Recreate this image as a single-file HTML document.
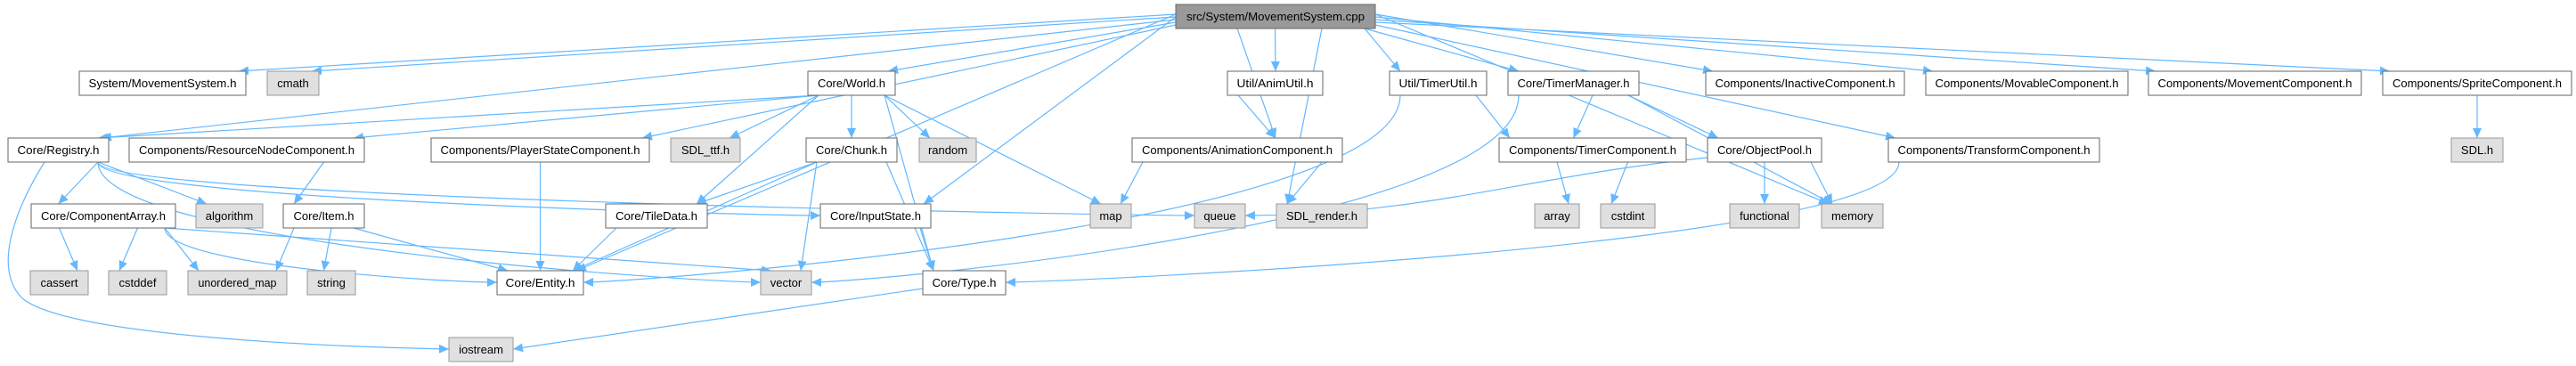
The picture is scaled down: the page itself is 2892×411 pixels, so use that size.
<!DOCTYPE html>
<html><head><meta charset="utf-8">
<style>
html,body{margin:0;padding:0;background:#fff;}
svg{display:block;}
text{font-family:"Liberation Sans",Arial,sans-serif;font-size:13px;fill:#000;}
</style></head>
<body>
<svg id="g" width="2892" height="411" viewBox="0 0 2892 411" xmlns="http://www.w3.org/2000/svg">
<defs>
<marker id="ah" markerUnits="userSpaceOnUse" markerWidth="12" markerHeight="10" refX="11" refY="5" orient="auto">
<path d="M0,0 L11,5 L0,10 z" fill="#63b8ff"/>
</marker>
</defs>
<g id="edges" fill="none" stroke="#63b8ff" stroke-width="1.2"></g>
<g id="nodes">
<rect x="1320" y="5" width="224" height="27" fill="#999" stroke="#666"/><text x="1432" y="23" text-anchor="middle" textLength="200" lengthAdjust="spacingAndGlyphs">src/System/MovementSystem.cpp</text>
<rect x="89" y="80" width="187" height="27" fill="#fff" stroke="#666"/><text x="182.5" y="98" text-anchor="middle" textLength="166" lengthAdjust="spacingAndGlyphs">System/MovementSystem.h</text>
<rect x="300" y="80" width="58" height="27" fill="#e0e0e0" stroke="#999"/><text x="329" y="98" text-anchor="middle">cmath</text>
<rect x="9" y="155" width="113" height="27" fill="#fff" stroke="#666"/><text x="65.5" y="173" text-anchor="middle" textLength="92" lengthAdjust="spacingAndGlyphs">Core/Registry.h</text>
<rect x="145" y="155" width="264" height="27" fill="#fff" stroke="#666"/><text x="277" y="173" text-anchor="middle" textLength="242" lengthAdjust="spacingAndGlyphs">Components/ResourceNodeComponent.h</text>
<rect x="35" y="229" width="162" height="27" fill="#fff" stroke="#666"/><text x="116" y="247" text-anchor="middle" textLength="140" lengthAdjust="spacingAndGlyphs">Core/ComponentArray.h</text>
<rect x="220" y="229" width="75" height="27" fill="#e0e0e0" stroke="#999"/><text x="257.5" y="247" text-anchor="middle">algorithm</text>
<rect x="318" y="229" width="91" height="27" fill="#fff" stroke="#666"/><text x="363.5" y="247" text-anchor="middle">Core/Item.h</text>
<rect x="34" y="304" width="65" height="27" fill="#e0e0e0" stroke="#999"/><text x="66.5" y="322" text-anchor="middle">cassert</text>
<rect x="122" y="304" width="65" height="27" fill="#e0e0e0" stroke="#999"/><text x="154.5" y="322" text-anchor="middle">cstddef</text>
<rect x="211" y="304" width="111" height="27" fill="#e0e0e0" stroke="#999"/><text x="266.5" y="322" text-anchor="middle" textLength="88" lengthAdjust="spacingAndGlyphs">unordered_map</text>
<rect x="345" y="304" width="54" height="27" fill="#e0e0e0" stroke="#999"/><text x="372" y="322" text-anchor="middle">string</text>
<rect x="558" y="304" width="97" height="27" fill="#fff" stroke="#666"/><text x="606.5" y="322" text-anchor="middle" textLength="78" lengthAdjust="spacingAndGlyphs">Core/Entity.h</text>
<rect x="504" y="379" width="72" height="27" fill="#e0e0e0" stroke="#999"/><text x="540" y="397" text-anchor="middle">iostream</text>
<rect x="484" y="155" width="245" height="27" fill="#fff" stroke="#666"/><text x="606.5" y="173" text-anchor="middle" textLength="224" lengthAdjust="spacingAndGlyphs">Components/PlayerStateComponent.h</text>
<rect x="907" y="80" width="98" height="27" fill="#fff" stroke="#666"/><text x="956" y="98" text-anchor="middle" textLength="76" lengthAdjust="spacingAndGlyphs">Core/World.h</text>
<rect x="753" y="155" width="78" height="27" fill="#e0e0e0" stroke="#999"/><text x="792" y="173" text-anchor="middle">SDL_ttf.h</text>
<rect x="905" y="155" width="102" height="27" fill="#fff" stroke="#666"/><text x="956" y="173" text-anchor="middle" textLength="80" lengthAdjust="spacingAndGlyphs">Core/Chunk.h</text>
<rect x="1032" y="155" width="64" height="27" fill="#e0e0e0" stroke="#999"/><text x="1064" y="173" text-anchor="middle">random</text>
<rect x="680" y="229" width="114" height="27" fill="#fff" stroke="#666"/><text x="737" y="247" text-anchor="middle" textLength="92" lengthAdjust="spacingAndGlyphs">Core/TileData.h</text>
<rect x="921" y="229" width="124" height="27" fill="#fff" stroke="#666"/><text x="983" y="247" text-anchor="middle" textLength="102" lengthAdjust="spacingAndGlyphs">Core/InputState.h</text>
<rect x="854" y="304" width="57" height="27" fill="#e0e0e0" stroke="#999"/><text x="882.5" y="322" text-anchor="middle">vector</text>
<rect x="1036" y="304" width="93" height="27" fill="#fff" stroke="#666"/><text x="1082.5" y="322" text-anchor="middle" textLength="72" lengthAdjust="spacingAndGlyphs">Core/Type.h</text>
<rect x="1378" y="80" width="107" height="27" fill="#fff" stroke="#666"/><text x="1431.5" y="98" text-anchor="middle" textLength="86" lengthAdjust="spacingAndGlyphs">Util/AnimUtil.h</text>
<rect x="1560" y="80" width="109" height="27" fill="#fff" stroke="#666"/><text x="1614.5" y="98" text-anchor="middle" textLength="88" lengthAdjust="spacingAndGlyphs">Util/TimerUtil.h</text>
<rect x="1693" y="80" width="147" height="27" fill="#fff" stroke="#666"/><text x="1766.5" y="98" text-anchor="middle" textLength="126" lengthAdjust="spacingAndGlyphs">Core/TimerManager.h</text>
<rect x="1271" y="155" width="236" height="27" fill="#fff" stroke="#666"/><text x="1389" y="173" text-anchor="middle" textLength="214" lengthAdjust="spacingAndGlyphs">Components/AnimationComponent.h</text>
<rect x="1224" y="229" width="46" height="27" fill="#e0e0e0" stroke="#999"/><text x="1247" y="247" text-anchor="middle">map</text>
<rect x="1341" y="229" width="57" height="27" fill="#e0e0e0" stroke="#999"/><text x="1369.5" y="247" text-anchor="middle">queue</text>
<rect x="1433" y="229" width="102" height="27" fill="#e0e0e0" stroke="#999"/><text x="1484" y="247" text-anchor="middle" textLength="80" lengthAdjust="spacingAndGlyphs">SDL_render.h</text>
<rect x="1683" y="155" width="210" height="27" fill="#fff" stroke="#666"/><text x="1788" y="173" text-anchor="middle" textLength="188" lengthAdjust="spacingAndGlyphs">Components/TimerComponent.h</text>
<rect x="1723" y="229" width="50" height="27" fill="#e0e0e0" stroke="#999"/><text x="1748" y="247" text-anchor="middle">array</text>
<rect x="1797" y="229" width="61" height="27" fill="#e0e0e0" stroke="#999"/><text x="1827.5" y="247" text-anchor="middle">cstdint</text>
<rect x="1917" y="155" width="128" height="27" fill="#fff" stroke="#666"/><text x="1981" y="173" text-anchor="middle" textLength="106" lengthAdjust="spacingAndGlyphs">Core/ObjectPool.h</text>
<rect x="1942" y="229" width="78" height="27" fill="#e0e0e0" stroke="#999"/><text x="1981" y="247" text-anchor="middle">functional</text>
<rect x="2045" y="229" width="69" height="27" fill="#e0e0e0" stroke="#999"/><text x="2079.5" y="247" text-anchor="middle">memory</text>
<rect x="1915" y="80" width="223" height="27" fill="#fff" stroke="#666"/><text x="2026.5" y="98" text-anchor="middle" textLength="202" lengthAdjust="spacingAndGlyphs">Components/InactiveComponent.h</text>
<rect x="2162" y="80" width="227" height="27" fill="#fff" stroke="#666"/><text x="2275.5" y="98" text-anchor="middle" textLength="206" lengthAdjust="spacingAndGlyphs">Components/MovableComponent.h</text>
<rect x="2412" y="80" width="239" height="27" fill="#fff" stroke="#666"/><text x="2531.5" y="98" text-anchor="middle" textLength="218" lengthAdjust="spacingAndGlyphs">Components/MovementComponent.h</text>
<rect x="2675" y="80" width="212" height="27" fill="#fff" stroke="#666"/><text x="2781" y="98" text-anchor="middle" textLength="190" lengthAdjust="spacingAndGlyphs">Components/SpriteComponent.h</text>
<rect x="2120" y="155" width="237" height="27" fill="#fff" stroke="#666"/><text x="2238.5" y="173" text-anchor="middle" textLength="216" lengthAdjust="spacingAndGlyphs">Components/TransformComponent.h</text>
<rect x="2752" y="155" width="58" height="27" fill="#e0e0e0" stroke="#999"/><text x="2781" y="173" text-anchor="middle">SDL.h</text>
</g>
</svg>
<script>
var R={1:5,2:80,3:155,4:229,5:304,6:379};
var N={cpp:[1320,1544,1],msh:[89,276,2],cmath:[300,358,2],reg:[9,122,3],res:[145,409,3],ca:[35,197,4],alg:[220,295,4],item:[318,409,4],cassert:[34,99,5],cstddef:[122,187,5],umap:[211,322,5],string:[345,399,5],entity:[558,655,5],iostream:[504,576,6],ps:[484,729,3],world:[907,1005,2],ttf:[753,831,3],chunk:[905,1007,3],random:[1032,1096,3],tile:[680,794,4],input:[921,1045,4],vector:[854,911,5],type:[1036,1129,5],anim:[1378,1485,2],tu:[1560,1669,2],tm:[1693,1840,2],ac:[1271,1507,3],map:[1224,1270,4],queue:[1341,1398,4],sdlr:[1433,1535,4],tc:[1683,1893,3],array:[1723,1773,4],cstdint:[1797,1858,4],op:[1917,2045,3],func:[1942,2020,4],memory:[2045,2114,4],inact:[1915,2138,2],movable:[2162,2389,2],movement:[2412,2651,2],sprite:[2675,2887,2],transform:[2120,2357,3],sdl:[2752,2810,3]};
function cl(v,a,b){return Math.max(a,Math.min(b,v));}
var E=[["cpp","msh"],["cpp","cmath"],["cpp","reg"],["cpp","world"],["cpp","ps"],["cpp","entity"],["cpp","ac"],["cpp","anim"],["cpp","sdlr"],["cpp","tu"],["cpp","tm"],["cpp","inact"],["cpp","movable"],["cpp","movement"],["cpp","sprite"],["cpp","transform"],["cpp","input"],["cpp","memory"],
["world","reg"],["world","res"],["world","ttf"],["world","chunk"],["world","random"],["world","tile"],["world","map"],["world","type"],
["reg","ca"],["reg","alg"],["reg","iostream","X"],["reg","queue","L"],["reg","input","L"],["reg","vector","L"],
["res","item"],["item","umap"],["item","string"],["item","entity"],
["ca","cassert"],["ca","cstddef"],["ca","umap"],["ca","entity","L"],["ca","vector"],
["ps","entity"],["chunk","tile"],["chunk","entity"],["chunk","vector"],["chunk","type"],["tile","entity"],["input","type"],["type","iostream","R"],
["anim","ac"],["ac","map"],["ac","sdlr"],["tu","tc"],["tu","entity","R"],["tm","tc"],["tm","op"],["tm","memory"],["tm","vector","R"],
["transform","type","R"],["op","queue","R"],["op","func"],["op","memory"],["tc","array"],["tc","cstdint"],["sprite","sdl"]];
var g=document.getElementById("edges"),s="";var li=0,ri=0;
E.forEach(function(e){var a=N[e[0]],b=N[e[1]];var acx=(a[0]+a[1])/2,bcx=(b[0]+b[1])/2;
var ay2=R[a[2]]+27,by=R[b[2]];var sx=cl(bcx,a[0]+12,a[1]-12),sy=ay2;var d;
if(e[2]=="X"){d="M50,182 C20,230 -10,300 25,335 C80,380 400,390 504,392";}
else if(e[2]){var ex=e[2]=="L"?b[0]:b[1],ey=by+13;
 if(e[0]=="type"){sx=a[0];sy=R[a[2]]+20;d="M"+sx+","+sy+" L"+ex+","+ey;}
 else if(e[0]=="op"){sx=a[0];sy=R[a[2]]+22;d="M"+sx+","+sy+" C"+(sx-200)+","+(sy+20)+" "+(ex+200)+","+ey+" "+ex+","+ey;}
 else d="M"+sx+","+sy+" C"+sx+","+(sy+(ey-sy)*0.7)+" "+(ex+(e[2]=="L"?-60:60))+","+ey+" "+ex+","+ey;}
else{var ex=cl(acx,b[0]+12,b[1]-12);
 if(e[0]=="cpp"&&Math.abs(bcx-acx)>350){
  if(bcx<acx){sx=1320;sy=16+(li++%5)*3;ex=b[1]-8;}else{sx=1544;sy=16+(ri++%5)*3;ex=b[0]+8;}
  d="M"+sx+","+sy+" L"+ex+","+by;}
 else d="M"+sx+","+sy+" L"+ex+","+by;}
s+='<path d="'+d+'" marker-end="url(#ah)"/>';});
g.innerHTML=s;
</script>
</body></html>
